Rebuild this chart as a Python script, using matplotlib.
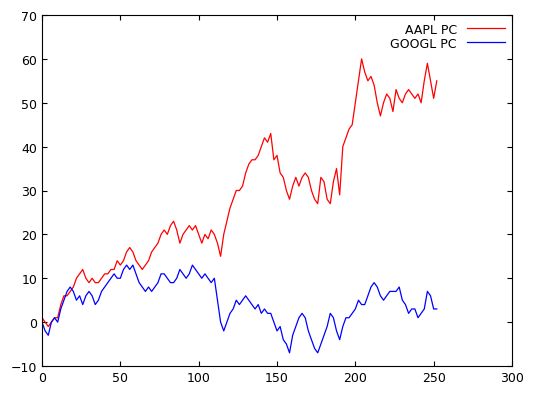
import matplotlib
matplotlib.use("Agg")
import matplotlib.pyplot as plt

step = 2
aapl_pc = [1, 0, -1, 0, 1, 1, 4, 6, 6, 7, 8, 10, 11, 12, 10, 9, 10, 9, 9, 10,
           11, 11, 12, 12, 14, 13, 14, 16, 17, 16, 14, 13, 12, 13, 14, 16, 17, 18, 20, 21,
           20, 22, 23, 21, 18, 20, 21, 22, 21, 22, 20, 18, 20, 19, 21, 20, 18, 15, 20, 23,
           26, 28, 30, 30, 31, 34, 36, 37, 37, 38, 40, 42, 41, 43, 37, 38, 34, 33, 30, 28,
           31, 33, 31, 33, 34, 33, 30, 28, 27, 33, 32, 28, 27, 32, 35, 29, 40, 42, 44, 45,
           50, 55, 60, 57, 55, 56, 54, 50, 47, 50, 52, 51, 48, 53, 51, 50, 52, 53, 52, 51,
           52, 50, 55, 59, 55, 51, 55]
googl_pc = [0, -2, -3, 0, 1, 0, 3, 5, 7, 8, 7, 5, 6, 4, 6, 7, 6, 4, 5, 7,
            8, 9, 10, 11, 10, 10, 12, 13, 12, 13, 11, 9, 8, 7, 8, 7, 8, 9, 11, 11,
            10, 9, 9, 10, 12, 11, 10, 11, 13, 12, 11, 10, 11, 10, 9, 10, 5, 0, -2, 0,
            2, 3, 5, 4, 5, 6, 5, 4, 3, 4, 2, 3, 2, 2, 0, -2, -1, -4, -5, -7,
            -3, -1, 1, 2, 1, -2, -4, -6, -7, -5, -3, -1, 2, 1, -2, -4, -1, 1, 1, 2,
            3, 5, 4, 4, 6, 8, 9, 8, 6, 5, 6, 7, 7, 7, 8, 5, 4, 2, 3, 3,
            1, 2, 3, 7, 6, 3, 3]
days = [i * step for i in range(len(aapl_pc))]

fig = plt.figure(figsize=(5.37, 4.02), dpi=100)
ax = fig.add_axes([42 / 537, 35 / 402, 470 / 537, 351 / 402])
ax.plot(days, aapl_pc, color='red', lw=0.9, label='AAPL PC')
ax.plot(days, googl_pc, color='blue', lw=0.9, label='GOOGL PC')
ax.set_xlim(0, 300)
ax.set_ylim(-10, 70)
ax.tick_params(direction='in', top=True, right=True, labelsize=9)
leg = ax.legend(loc='upper right', frameon=False, markerfirst=False, fontsize=9,
                handlelength=3, borderaxespad=0.2, labelspacing=0.1)
fig.savefig('out.png')
